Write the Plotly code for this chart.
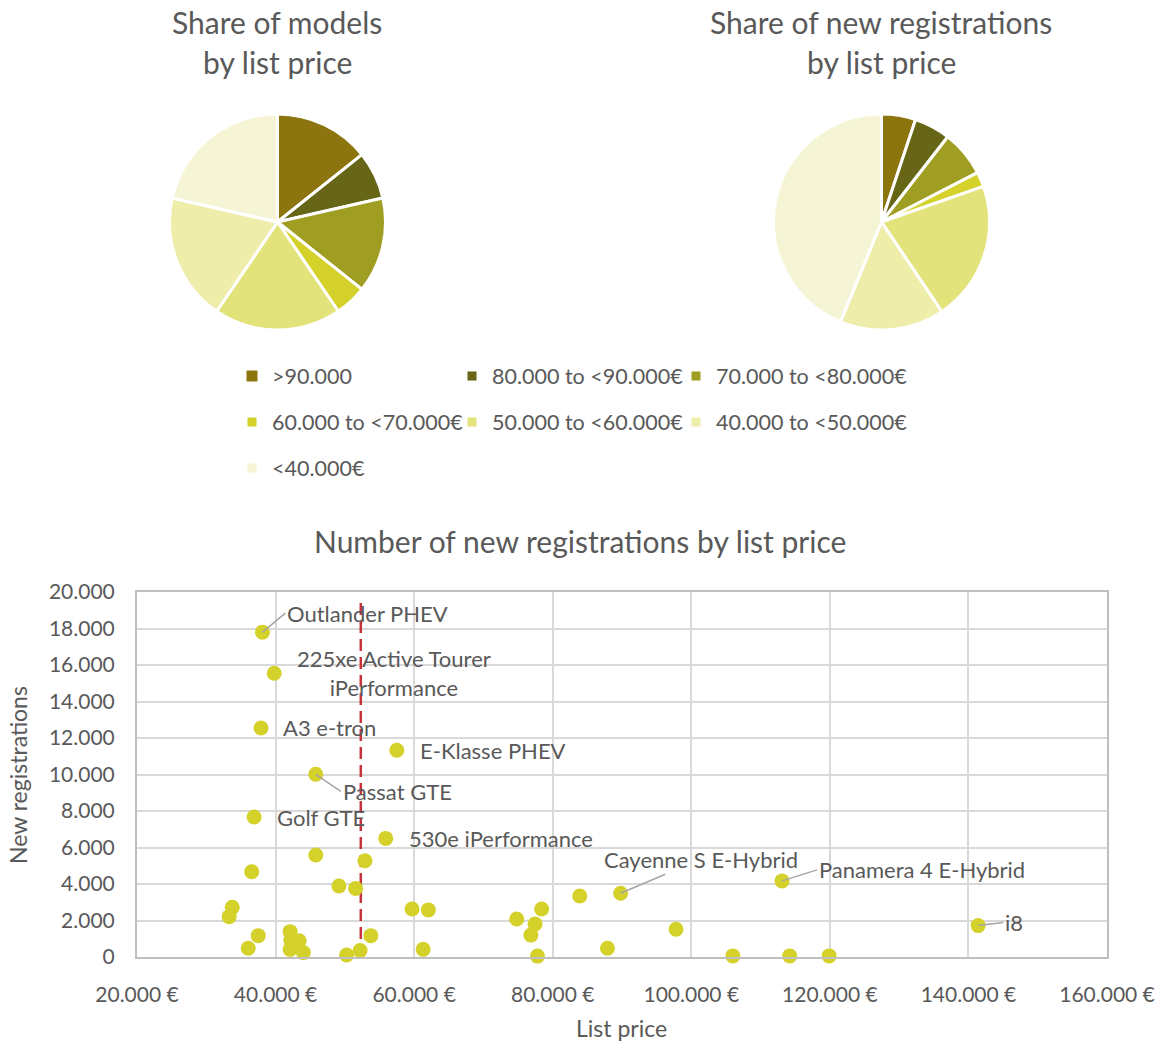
import plotly.graph_objects as go

# ---------------- data ----------------
price_bands = [">90.000", "80.000 to <90.000€", "70.000 to <80.000€", "60.000 to <70.000€",
               "50.000 to <60.000€", "40.000 to <50.000€", "<40.000€"]
band_colors = ["#8C750E", "#676516", "#A09E22", "#D4D12A", "#E3E37C", "#EEEDAA", "#F5F5D5"]
models_per_band = [6, 3, 6, 2, 8, 8, 9]
registrations_share = [5.1, 5.4, 6.9, 2.2, 20.9, 15.6, 43.7]

model_names = ["Outlander PHEV", "225xe Active Tourer<br>iPerformance", "A3 e-tron", "E-Klasse PHEV",
               "Passat GTE", "Golf GTE", "530e iPerformance", "Cayenne S E-Hybrid",
               "Panamera 4 E-Hybrid", "i8"] + [""] * 31
list_price = [38100, 39800, 37900, 57500, 45800, 36900, 55900, 89800, 113100, 141400,
              36550, 45800, 52900, 49150, 51550, 33750, 33300, 59700, 62050, 37500,
              36050, 42100, 43400, 42200, 42100, 44000, 50250, 52200, 53750, 61300,
              74800, 78400, 77450, 76850, 77800, 83900, 87900, 97800, 106000, 114200, 119900]
new_registrations = [17800, 15550, 12550, 11330, 10010, 7670, 6500, 3490, 4170, 1720,
                     4670, 5590, 5270, 3890, 3750, 2720, 2210, 2630, 2580, 1170,
                     480, 1390, 890, 900, 420, 240, 110, 350, 1170, 420,
                     2080, 2630, 1810, 1200, 50, 3340, 480, 1520, 60, 60, 60]
average_list_price = 52300
avg_line_span = [0, 19600]

x_ticks = [20000, 40000, 60000, 80000, 100000, 120000, 140000, 160000]
y_ticks = list(range(0, 20001, 2000))


def de_number(v):
    return f"{v:,}".replace(",", ".")


x_ticktext = [de_number(v) + " €" for v in x_ticks]
y_ticktext = [de_number(v) for v in y_ticks]

# ---------------- styles ----------------
FONT = "Lato"
TXT = "#595959"
GRID = "#D9D9D9"
DOT = "#D4D12A"

# label placement (pixel offsets from the point): (dx, dy, arrow, anchor)
label_style = {
    "Outlander PHEV": (23, -19, True, "left"),
    "225xe Active Tourer<br>iPerformance": (120, 0, False, "center"),
    "A3 e-tron": (20, 0, False, "left"),
    "E-Klasse PHEV": (21, 0, False, "left"),
    "Passat GTE": (25, 17, True, "left"),
    "Golf GTE": (21, 0, False, "left"),
    "530e iPerformance": (21, 0, False, "left"),
    "Cayenne S E-Hybrid": (80, -34, True, "center"),
    "Panamera 4 E-Hybrid": (35, -11, True, "left"),
    "i8": (25, -3, True, "left"),
}

# legend entry positions (pixel centre of the colour square)
legend_slots = [(256, 376), (476, 376), (700, 376),
                (256, 422), (476, 422), (700, 422),
                (256, 468)]
legend_symbol_sizes = [11, 9, 9, 9, 9, 9, 9]

W, H = 1166, 1042


def px_x(p):
    return p / W


def px_y(p):
    return 1 - p / H


fig = go.Figure()

# pies
for cx, vals in [(277.5, models_per_band), (881.5, registrations_share)]:
    r = 108
    fig.add_trace(go.Pie(
        labels=price_bands, values=vals, sort=False, direction="clockwise", rotation=0,
        marker=dict(colors=band_colors, line=dict(color="white", width=3)),
        textinfo="none", showlegend=False, hoverinfo="label+value",
        domain=dict(x=[px_x(cx - r), px_x(cx + r)], y=[px_y(222 + r), px_y(222 - r)]),
    ))

# legend entries: one small legend per entry
legend_layouts = {}
for i, (name, col) in enumerate(zip(price_bands, band_colors)):
    lid = "legend" if i == 0 else f"legend{i + 1}"
    fig.add_trace(go.Scatter(
        x=[None], y=[None], mode="markers", name=name, legend=lid, showlegend=True,
        marker=dict(symbol="square", size=legend_symbol_sizes[i], color=col),
    ))
    sx, sy = legend_slots[i]
    legend_layouts[lid] = dict(
        orientation="h", xanchor="left", yanchor="middle",
        x=px_x(sx - 24), y=px_y(sy),
        bgcolor="rgba(0,0,0,0)", font=dict(family=FONT, size=21.5, color=TXT),
        itemclick=False, itemdoubleclick=False)

# average line
fig.add_trace(go.Scatter(
    x=[average_list_price, average_list_price], y=avg_line_span, mode="lines",
    line=dict(color="#C8323C", width=2.5, dash="12px,6px"), showlegend=False, hoverinfo="skip",
))

# scatter
fig.add_trace(go.Scatter(
    x=list_price, y=new_registrations, mode="markers", text=model_names,
    marker=dict(size=15, color=DOT), cliponaxis=False, showlegend=False,
))

annotations = []
for name, xv, yv in zip(model_names, list_price, new_registrations):
    if not name:
        continue
    dx, dy, arrow, anchor = label_style[name]
    if arrow:
        annotations.append(dict(
            x=xv, y=yv, xref="x", yref="y", text=name, showarrow=True, ax=dx, ay=dy,
            axref="pixel", ayref="pixel", xanchor=anchor, yanchor="middle",
            arrowhead=0, arrowwidth=1.5, arrowcolor="#A6A6A6", standoff=0,
            font=dict(family=FONT, size=22, color=TXT)))
    else:
        annotations.append(dict(
            x=xv, y=yv, xref="x", yref="y", text=name, showarrow=False,
            xshift=dx, yshift=-dy, xanchor=anchor, yanchor="middle", align="center",
            font=dict(family=FONT, size=22, color=TXT)))


# titles
def title(text, x, y, size=30):
    annotations.append(dict(x=px_x(x), y=px_y(y), xref="paper", yref="paper", text=text,
                            showarrow=False, xanchor="center", yanchor="middle",
                            font=dict(family=FONT, size=size, color=TXT)))


title("Share of models", 277, 22)
title("by list price", 277, 62)
title("Share of new registrations", 881, 22)
title("by list price", 881, 62)
title("Number of new registrations by list price", 580, 541)
title("List price", 621, 1028, 23)
annotations.append(dict(x=px_x(18), y=px_y(775), xref="paper", yref="paper", text="New registrations",
                        showarrow=False, textangle=-90, xanchor="center", yanchor="middle",
                        font=dict(family=FONT, size=23, color=TXT)))

fig.update_layout(
    width=W, height=H, margin=dict(l=0, r=0, t=0, b=0, autoexpand=False),
    paper_bgcolor="white", plot_bgcolor="white",
    showlegend=True,
    annotations=annotations,
    xaxis=dict(domain=[px_x(137), px_x(1107)], range=[20000, 160000], tickvals=x_ticks,
               ticktext=x_ticktext, showgrid=True, gridcolor=GRID, gridwidth=2,
               showline=True, linecolor="#BFBFBF", linewidth=2, mirror=True, zeroline=False,
               ticks="", ticklabelstandoff=18,
               tickfont=dict(family=FONT, size=21, color=TXT), fixedrange=True),
    yaxis=dict(domain=[px_y(957), px_y(592)], range=[0, 20000], tickvals=y_ticks,
               ticktext=y_ticktext, showgrid=True, gridcolor=GRID, gridwidth=2,
               showline=True, linecolor="#BFBFBF", linewidth=2, mirror=True, zeroline=False,
               ticks="", ticklabelstandoff=16,
               tickfont=dict(family=FONT, size=21, color=TXT), fixedrange=True),
)
fig.update_layout(**legend_layouts)

fig.write_html("out.html", config={"displayModeBar": False},
               post_script="document.body.style.margin='0';document.body.style.overflow='hidden';")
